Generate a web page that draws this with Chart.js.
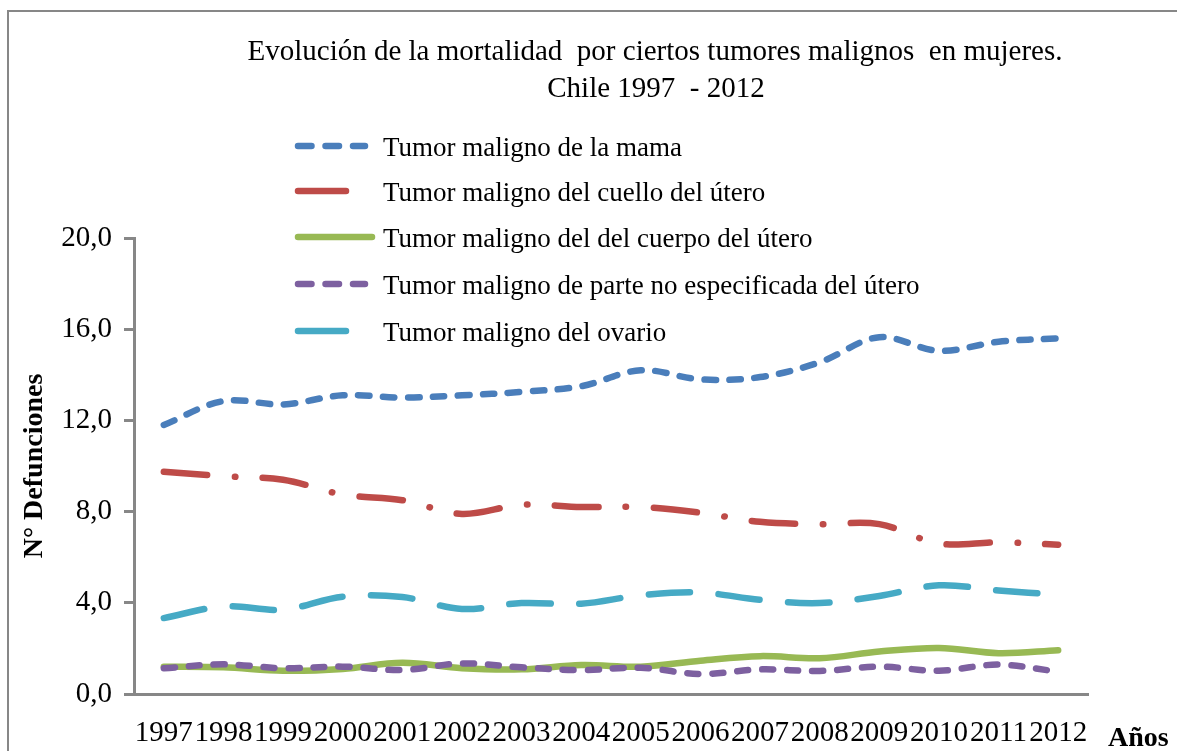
<!DOCTYPE html>
<html>
<head>
<meta charset="utf-8">
<script src="https://cdn.jsdelivr.net/npm/chart.js@4.4.0/dist/chart.umd.min.js"></script>
<style>
  html, body { margin: 0; padding: 0; background: #fff; }
</style>
</head>
<body>
<canvas id="line-chart" width="1177" height="751"></canvas>
<script>
// data
var years = ['1997', '1998', '1999', '2000', '2001', '2002', '2003', '2004',
             '2005', '2006', '2007', '2008', '2009', '2010', '2011', '2012'];
var mama    = [11.8, 12.85, 12.7, 13.1, 13.0, 13.1, 13.25, 13.5, 14.2, 13.8, 13.9, 14.55, 15.65, 15.05, 15.45, 15.6];
var cuello  = [9.75, 9.55, 9.4, 8.75, 8.5, 7.9, 8.3, 8.2, 8.2, 7.95, 7.55, 7.45, 7.45, 6.6, 6.65, 6.55];
var cuerpo  = [1.2, 1.17, 1.02, 1.1, 1.37, 1.13, 1.08, 1.27, 1.2, 1.46, 1.66, 1.57, 1.86, 2.02, 1.79, 1.92];
var parte   = [1.13, 1.3, 1.13, 1.2, 1.05, 1.34, 1.17, 1.05, 1.15, 0.88, 1.08, 1.01, 1.2, 1.02, 1.29, 0.98];
var ovario  = [3.33, 3.84, 3.7, 4.27, 4.25, 3.73, 3.99, 3.96, 4.33, 4.45, 4.13, 3.99, 4.3, 4.77, 4.54, 4.35];
var yTicks  = [0, 4, 8, 12, 16, 20];

var serif = "'Liberation Serif', 'Times New Roman', serif";
var axisGray = '#878787';

var seriesNames = [
  'Tumor maligno de la mama',
  'Tumor maligno del cuello del útero',
  'Tumor maligno del del cuerpo del útero',
  'Tumor maligno de parte no especificada del útero',
  'Tumor maligno del ovario'
];

function lineSet(label, values, color, dash, order) {
  return {
    label: label,
    data: values,
    borderColor: color,
    backgroundColor: color,
    borderWidth: 6.5,
    borderDash: dash,
    borderCapStyle: 'round',
    borderJoinStyle: 'round',
    pointRadius: 0,
    tension: 0.35,
    fill: false,
    order: order
  };
}

// title, axis name, frame and the legend are painted here
var decor = {
  id: 'decor',
  beforeDraw: function(chart) {
    var ctx = chart.ctx;
    ctx.save();
    ctx.strokeStyle = axisGray;
    ctx.lineWidth = 2;
    ctx.beginPath();
    ctx.moveTo(8, chart.height);
    ctx.lineTo(8, 11);
    ctx.lineTo(chart.width, 11);
    ctx.stroke();
    ctx.restore();
  },
  afterDraw: function(chart) {
    var ctx = chart.ctx;
    var area = chart.chartArea;
    ctx.save();
    ctx.fillStyle = '#000';
    ctx.textAlign = 'center';
    ctx.textBaseline = 'alphabetic';
    ctx.font = '29px ' + serif;
    ctx.fillText('Evolución de la mortalidad  por ciertos tumores malignos  en mujeres.', 655, 60);
    ctx.fillText('Chile 1997  - 2012', 656, 97);

    ctx.textAlign = 'left';
    ctx.font = 'bold 28px ' + serif;
    ctx.fillText('Años', area.right + 20, 746);

    // legend
    var rows = [146, 191, 237, 284, 331];
    var lens = [67, 48, 74, 67, 48];
    ctx.font = '27px ' + serif;
    chart.data.datasets.forEach(function(ds, i) {
      var y = rows[i];
      ctx.save();
      ctx.strokeStyle = ds.borderColor;
      ctx.lineWidth = 6.5;
      ctx.lineCap = 'round';
      if (ds.borderDash.length === 2 && ds.borderDash[0] < 20) ctx.setLineDash([13.5, 14]);
      ctx.beginPath();
      ctx.moveTo(298, y);
      ctx.lineTo(298 + lens[i], y);
      ctx.stroke();
      ctx.restore();
      ctx.fillText(ds.label, 383, y + 10);
    });
    ctx.restore();
  }
};

var chart1 = new Chart(document.getElementById('line-chart'), {
  type: 'line',
  data: {
    labels: years,
    datasets: [
      lineSet(seriesNames[0], mama,   '#4A7EBB', [11.5, 13.5], 5),
      lineSet(seriesNames[1], cuello, '#BE4B48', [43.5, 27.5, 0.5, 27.5], 4),
      lineSet(seriesNames[2], cuerpo, '#98B954', [], 3),
      lineSet(seriesNames[3], parte,  '#7D60A0', [11, 14], 2),
      lineSet(seriesNames[4], ovario, '#46AAC5', [41.5, 28.5], 1)
    ]
  },
  options: {
    responsive: false,
    animation: false,
    layout: { padding: { top: 238, right: 89, bottom: 0, left: 0 } },
    plugins: {
      legend: { display: false },
      tooltip: { enabled: false },
      title: { display: false }
    },
    scales: {
      x: {
        offset: true,
        grid: { display: false, drawTicks: false },
        border: { display: true, color: axisGray, width: 3 },
        ticks: {
          autoSkip: false,
          maxRotation: 0,
          minRotation: 0,
          padding: 22,
          color: '#000',
          font: { family: serif, size: 29 }
        },
        afterFit: function(scale) { scale.height = 57; }
      },
      y: {
        min: 0,
        max: 20,
        afterBuildTicks: function(scale) {
          scale.ticks = yTicks.map(function(v) { return { value: v }; });
        },
        grid: { drawOnChartArea: false, tickLength: 10, color: axisGray, lineWidth: 3 },
        border: { display: true, color: axisGray, width: 3 },
        ticks: {
          padding: 12,
          color: '#000',
          font: { family: serif, size: 29 },
          callback: function(v) { return v.toFixed(1).replace('.', ','); }
        },
        title: {
          display: true,
          text: 'N° Defunciones',
          color: '#000',
          font: { family: serif, size: 28, weight: 'bold' },
          padding: { top: 18, bottom: 0 }
        },
        afterFit: function(scale) { scale.width = 134; }
      }
    }
  },
  plugins: [decor]
});
</script>
</body>
</html>
